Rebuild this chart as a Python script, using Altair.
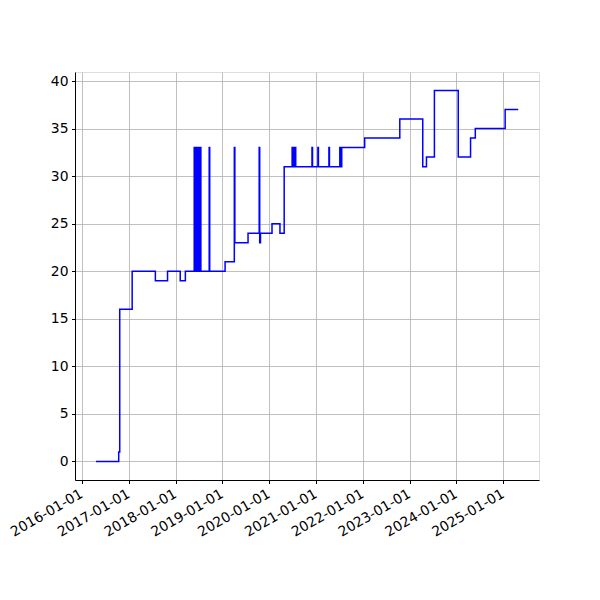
import altair as alt
import pandas as pd

dates = [
    "2016-04-20", "2016-10-14", "2016-10-22", "2017-01-27", "2017-07-27", "2017-10-30",
    "2018-02-06", "2018-03-18",
    "2018-05-26", "2018-06-01", "2018-06-04", "2018-06-10", "2018-06-13", "2018-06-20",
    "2018-06-23", "2018-06-29", "2018-07-02", "2018-07-08", "2018-07-11", "2018-07-17",
    "2018-09-20", "2018-09-24",
    "2019-01-22", "2019-04-04", "2019-04-08", "2019-07-20",
    "2019-10-15", "2019-10-19", "2019-10-25",
    "2020-01-23", "2020-03-25", "2020-04-27",
    "2020-06-28", "2020-07-02", "2020-07-06", "2020-07-10", "2020-07-14", "2020-07-18",
    "2020-07-22", "2020-07-26",
    "2020-11-30", "2020-12-04", "2021-01-15", "2021-01-19", "2021-04-11", "2021-04-15",
    "2021-07-05", "2021-07-09", "2021-07-13", "2021-07-17", "2021-07-20",
    "2022-01-15", "2022-10-16", "2023-04-13", "2023-05-12", "2023-07-13",
    "2024-01-15", "2024-04-20", "2024-05-27", "2025-01-15", "2025-04-27",
]
values = [
    0, 1, 16, 20, 19, 20,
    19, 20,
    33, 20, 33, 20, 33, 20,
    33, 20, 33, 20, 33, 20,
    33, 20,
    21, 33, 23, 24,
    33, 23, 24,
    25, 24, 31,
    33, 31, 33, 31, 33, 31,
    33, 31,
    33, 31, 33, 31, 33, 31,
    33, 31, 33, 31, 33,
    34, 36, 31, 32, 39,
    32, 34, 35, 37, 37,
]
tick_years = list(range(2016, 2026))
y_ticks = [0, 5, 10, 15, 20, 25, 30, 35, 40]

df = pd.DataFrame({"date": dates, "value": values})

chart = alt.Chart(df).mark_line(
    interpolate="step-after", color="#0000ff", strokeWidth=1.5
).encode(
    x=alt.X(
        "date:T",
        title=None,
        scale=alt.Scale(
            type="utc",
            domain=[alt.DateTime(year=2015, month=11, date=8, utc=True),
                    alt.DateTime(year=2025, month=10, date=6, utc=True)],
            nice=False,
        ),
        axis=alt.Axis(
            values=[alt.DateTime(year=y, month=1, date=1, utc=True) for y in tick_years],
            labelExpr="utcFormat(datum.value, '%Y-%m-%d')",
            labelAngle=330, labelAlign="right", labelBaseline="top",
            labelFont="DejaVu Sans", labelFontSize=13.9, labelColor="black",
            tickColor="black", tickSize=3.5, domainColor="black",
            grid=True, gridColor="#b0b0b0", gridWidth=0.8,
            labelPadding=3, labelOffset=-4, labelOverlap=False, labelFlush=False,
        ),
    ),
    y=alt.Y(
        "value:Q",
        title=None,
        scale=alt.Scale(domain=[-1.95, 40.95], nice=False, zero=False),
        axis=alt.Axis(
            values=y_ticks,
            labelFont="DejaVu Sans", labelFontSize=13.9, labelColor="black",
            tickColor="black", tickSize=3.5, domainColor="black",
            grid=True, gridColor="#b0b0b0", gridWidth=0.8,
            labelPadding=3.5,
        ),
    ),
).properties(
    width=464, height=408,
    autosize=alt.AutoSizeParams(type="none"),
    padding={"left": 67, "top": 64, "right": 53, "bottom": 112},
).configure_view(
    stroke="black", strokeWidth=1
).configure(background="white")

chart.save("out.html", embed_options={"renderer": "svg", "actions": False})
